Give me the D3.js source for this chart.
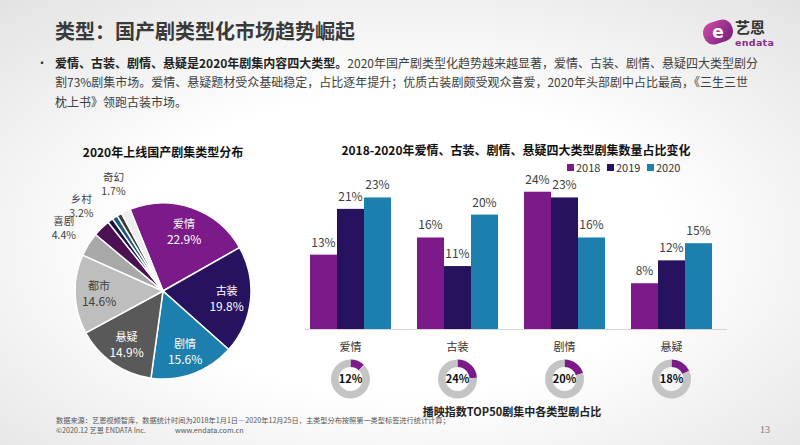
<!DOCTYPE html>
<html lang="zh">
<head>
<meta charset="UTF-8">
<title>类型：国产剧类型化市场趋势崛起</title>
<script src="https://d3js.org/d3.v7.min.js"></script>
<style>
    body { margin: 0; background: #fff; }
    svg { display: block; font-family: "Noto Sans CJK SC", "Noto Sans", sans-serif; }
</style>
</head>
<body>
<div id="chart"></div>
<script>
    // pie: 2020 genre share (small unlabeled slices have no name)
    var pieNames = ["爱情", "古装", "剧情", "悬疑", "都市", "喜剧", "乡村", "", "", "", "奇幻"];
    var pieValues = [22.9, 19.8, 15.6, 14.9, 14.6, 4.4, 3.2, 1.0, 1.0, 0.9, 1.7];
    var pieColors = ["#7b1a88", "#27125f", "#1c7fae", "#595959", "#bebebe", "#a8a8a8", "#4b1152", "#1a1048", "#1b5c78", "#3c3c3c", "#eeeeee"];

    // bars: 2018-2020 share of the four big genres
    var barCategories = ["爱情", "古装", "剧情", "悬疑"];
    var barYears = ["2018", "2019", "2020"];
    var values2018 = [13, 16, 24, 8];
    var values2019 = [21, 11, 23, 12];
    var values2020 = [23, 20, 16, 15];
    var yearColors = ["#7b1a88", "#27125f", "#1c7fae"];

    // donuts: share in top 50 by broadcast index
    var topShare = [12, 24, 20, 18];

    var w = 800, h = 445;

    var svg = d3.select("#chart").append("svg")
        .attr("width", w)
        .attr("height", h);

    var defs = svg.append("defs");
    var bg = defs.append("radialGradient").attr("id", "bg")
        .attr("cx", "50%").attr("cy", "55%").attr("r", "75%");
    bg.append("stop").attr("offset", "45%").attr("stop-color", "#ffffff");
    bg.append("stop").attr("offset", "100%").attr("stop-color", "#e2e2e2");
    var lg = defs.append("linearGradient").attr("id", "logo")
        .attr("x1", "0").attr("y1", "0").attr("x2", "1").attr("y2", "1");
    lg.append("stop").attr("offset", "0%").attr("stop-color", "#d54aa6");
    lg.append("stop").attr("offset", "100%").attr("stop-color", "#6e1d7c");

    svg.append("rect").attr("width", w).attr("height", h).attr("fill", "url(#bg)");

    // header
    svg.append("text")
        .attr("x", 55).attr("y", 39)
        .attr("font-size", 20).attr("font-weight", "bold")
        .attr("fill", "#3a3a3a")
        .text("类型：国产剧类型化市场趋势崛起");

    // logo
    var logo = svg.append("g");
    logo.append("rect")
        .attr("x", 703).attr("y", 21).attr("width", 30).attr("height", 22).attr("rx", 10)
        .attr("transform", "rotate(-18,718,32)")
        .attr("fill", "url(#logo)");
    logo.append("text")
        .attr("x", 718).attr("y", 38).attr("text-anchor", "middle")
        .attr("font-size", 17).attr("font-weight", "bold").attr("fill", "#fff")
        .attr("font-family", "DejaVu Sans")
        .text("e");
    logo.append("text")
        .attr("x", 735).attr("y", 33)
        .attr("font-size", 15).attr("font-weight", "bold").attr("fill", "#333")
        .text("艺恩");
    logo.append("text")
        .attr("x", 735).attr("y", 46)
        .attr("font-size", 9.5).attr("font-weight", "bold").attr("fill", "#8a2a8c")
        .attr("font-family", "DejaVu Sans")
        .attr("letter-spacing", 0.3)
        .text("endata");

    // bullet text
    svg.append("text").attr("x", 36).attr("y", 68)
        .attr("font-size", 12).attr("fill", "#333").text("•");
    var line1 = svg.append("text").attr("x", 55).attr("y", 68)
        .attr("font-size", 12).attr("fill", "#404040");
    line1.append("tspan").attr("font-weight", "bold").attr("fill", "#222")
        .text("爱情、古装、剧情、悬疑是2020年剧集内容四大类型。");
    line1.append("tspan")
        .text("2020年国产剧类型化趋势越来越显著，爱情、古装、剧情、悬疑四大类型剧分");
    svg.append("text").attr("x", 55).attr("y", 87)
        .attr("font-size", 12).attr("fill", "#404040")
        .text("割73%剧集市场。爱情、悬疑题材受众基础稳定，占比逐年提升；优质古装剧颇受观众喜爱，2020年头部剧中占比最高，《三生三世");
    svg.append("text").attr("x", 55).attr("y", 107)
        .attr("font-size", 12).attr("fill", "#404040")
        .text("枕上书》领跑古装市场。");

    // ---------- pie ----------
    var cx = 163, cy = 291, r = 88;
    svg.append("text")
        .attr("x", cx).attr("y", 157).attr("text-anchor", "middle")
        .attr("font-size", 12).attr("font-weight", "bold").attr("fill", "#111")
        .text("2020年上线国产剧集类型分布");

    var start = -22 * Math.PI / 180;
    var pie = d3.pie().sort(null).startAngle(start).endAngle(start + 2 * Math.PI);
    var arcs = pie(pieValues);
    var arc = d3.arc().innerRadius(0).outerRadius(r);
    var inArc = d3.arc().innerRadius(64).outerRadius(64);
    var outArc = d3.arc().innerRadius(117).outerRadius(117);

    var pg = svg.append("g").attr("transform", "translate(" + cx + "," + cy + ")");
    pg.selectAll("path").data(arcs).enter().append("path")
        .attr("d", arc)
        .attr("fill", function(d, i) { return pieColors[i]; })
        .attr("stroke", "#fff")
        .attr("stroke-width", 1.5);

    arcs.forEach(function(d, i) {
        if (!pieNames[i]) return;
        var inside = d.value >= 10;
        var p = inside ? inArc.centroid(d) : outArc.centroid(d);
        var col = inside ? (d3.hsl(pieColors[i]).l > 0.6 ? "#404040" : "#fff") : "#404040";
        pg.append("text")
            .attr("x", p[0]).attr("y", inside ? p[1] - 3 : p[1] - 4)
            .attr("text-anchor", "middle")
            .attr("font-size", inside ? 11 : 10.5).attr("fill", col)
            .text(pieNames[i]);
        pg.append("text")
            .attr("x", p[0]).attr("y", inside ? p[1] + 13 : p[1] + 10)
            .attr("text-anchor", "middle")
            .attr("font-size", inside ? 12 : 10.5).attr("fill", col)
            .text(d3.format(".1f")(pieValues[i]) + "%");
    });

    // ---------- grouped bars ----------
    var baseY = 329;
    var x0 = d3.scaleBand().domain(barCategories).range([297, 725]).paddingInner(0.243).paddingOuter(0.1215);
    var x1 = d3.scaleBand().domain(barYears).range([0, x0.bandwidth()]);
    var y = d3.scaleLinear().domain([0, 25]).range([baseY, baseY - 143]);

    svg.append("text")
        .attr("x", 516).attr("y", 155).attr("text-anchor", "middle")
        .attr("font-size", 12).attr("font-weight", "bold").attr("fill", "#111")
        .text("2018-2020年爱情、古装、剧情、悬疑四大类型剧集数量占比变化");

    var leg = svg.append("g").selectAll("g").data(barYears).enter().append("g")
        .attr("transform", function(d, i) { return "translate(" + (567 + i * 40) + ",168)"; });
    leg.append("rect").attr("x", 0).attr("y", -4).attr("width", 7).attr("height", 7)
        .attr("fill", function(d, i) { return yearColors[i]; });
    leg.append("text").attr("x", 9).attr("y", 4)
        .attr("font-size", 11).attr("fill", "#333")
        .text(function(d) { return d; });

    var series = [values2018, values2019, values2020];
    var groups = svg.append("g").selectAll("g").data(barCategories).enter().append("g")
        .attr("transform", function(d) { return "translate(" + x0(d) + ",0)"; });
    groups.selectAll("rect")
        .data(function(d, ci) { return barYears.map(function(yr, si) { return { yr: yr, v: series[si][ci], si: si }; }); })
        .enter().append("rect")
        .attr("x", function(d) { return x1(d.yr); })
        .attr("y", function(d) { return y(d.v); })
        .attr("width", x1.bandwidth())
        .attr("height", function(d) { return baseY - y(d.v); })
        .attr("fill", function(d) { return yearColors[d.si]; });
    groups.selectAll("text.val")
        .data(function(d, ci) { return barYears.map(function(yr, si) { return { yr: yr, v: series[si][ci] }; }); })
        .enter().append("text")
        .attr("class", "val")
        .attr("x", function(d) { return x1(d.yr) + x1.bandwidth() / 2; })
        .attr("y", function(d) { return y(d.v) - 8; })
        .attr("text-anchor", "middle")
        .attr("font-size", 12).attr("fill", "#404040")
        .text(function(d) { return d.v + "%"; });

    svg.append("line")
        .attr("x1", 305).attr("x2", 727).attr("y1", baseY + 0.5).attr("y2", baseY + 0.5)
        .attr("stroke", "#d6d6d6").attr("stroke-width", 1);

    // ---------- donuts ----------
    var dArc = d3.arc().innerRadius(12).outerRadius(19.5);
    var dPie = d3.pie().sort(null);
    barCategories.forEach(function(c, i) {
        var gx = x0(c) + x0.bandwidth() / 2;
        svg.append("text")
            .attr("x", gx).attr("y", 351).attr("text-anchor", "middle")
            .attr("font-size", 11).attr("fill", "#333")
            .text(c);
        var dg = svg.append("g").attr("transform", "translate(" + gx + ",379)");
        dg.selectAll("path").data(dPie([topShare[i], 100 - topShare[i]])).enter().append("path")
            .attr("d", dArc)
            .attr("fill", function(d, k) { return k === 0 ? "#7b1a88" : "#c4c4c4"; });
        dg.append("text")
            .attr("y", 4).attr("text-anchor", "middle")
            .attr("font-size", 11).attr("font-weight", "bold").attr("fill", "#111")
            .text(topShare[i] + "%");
    });
    svg.append("text")
        .attr("x", 512).attr("y", 416).attr("text-anchor", "middle")
        .attr("font-size", 11).attr("font-weight", "bold").attr("fill", "#222")
        .text("播映指数TOP50剧集中各类型剧占比");

    // ---------- footer ----------
    svg.append("text").attr("x", 56).attr("y", 423)
        .attr("font-size", 7.2).attr("fill", "#555")
        .text("数据来源：艺恩视频智库，数据统计时间为2018年1月1日—2020年12月25日，主类型分布按照第一类型标签进行统计计算；");
    svg.append("text").attr("x", 56).attr("y", 433)
        .attr("font-size", 7.2).attr("fill", "#555")
        .text("©2020.12 艺恩 ENDATA Inc.");
    svg.append("text").attr("x", 175).attr("y", 433)
        .attr("font-size", 7.2).attr("fill", "#555")
        .text("www.endata.com.cn");
    svg.append("text").attr("x", 770).attr("y", 433).attr("text-anchor", "end")
        .attr("font-size", 10).attr("fill", "#777").attr("font-family", "Liberation Serif")
        .text("13");
</script>
</body>
</html>
